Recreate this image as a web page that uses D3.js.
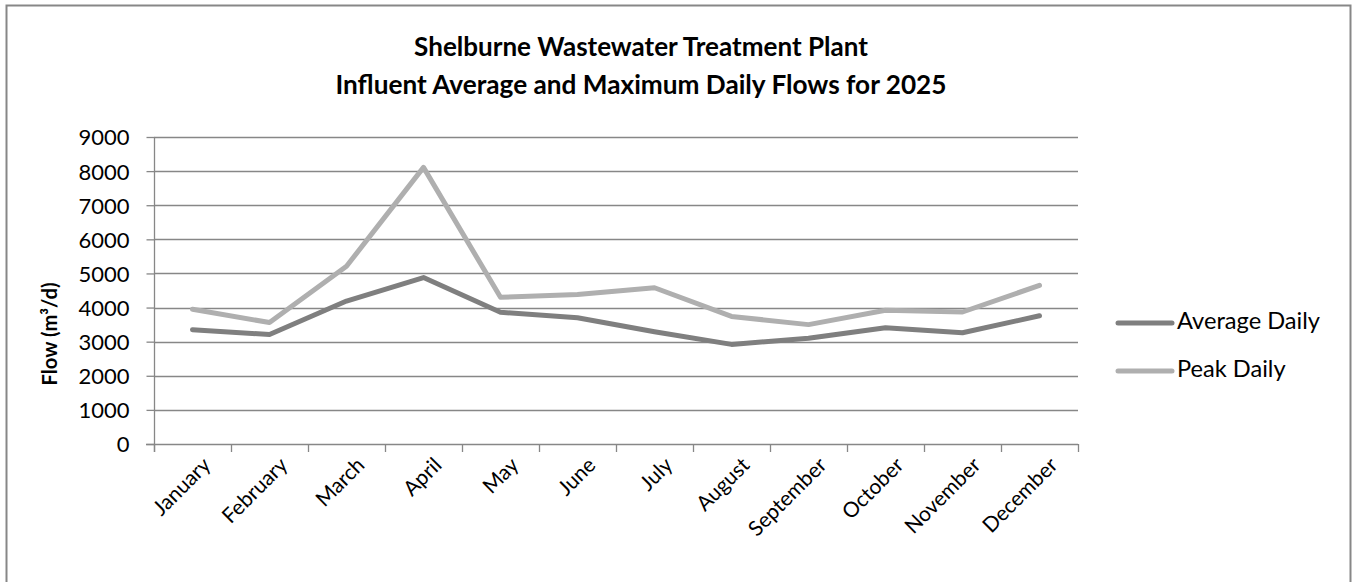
<!DOCTYPE html>
<html>
<head>
<meta charset="utf-8">
<script src="https://cdn.jsdelivr.net/npm/d3@7"></script>
<style>
  html, body { margin: 0; padding: 0; background: #fff; }
  svg { display: block; }
  text { font-family: Lato, "Open Sans", sans-serif; fill: #000; }
</style>
</head>
<body>
<svg id="chart" width="1353" height="582"></svg>
<script>
const months = ["January","February","March","April","May","June","July","August","September","October","November","December"];
const averageDaily = [3350, 3210, 4190, 4880, 3860, 3700, 3290, 2920, 3100, 3410, 3260, 3760];
const peakDaily = [3950, 3560, 5210, 8110, 4300, 4380, 4580, 3740, 3500, 3920, 3870, 4650];
const yTicks = [0, 1000, 2000, 3000, 4000, 5000, 6000, 7000, 8000, 9000];
const seriesNames = ["Average Daily", "Peak Daily"];
const seriesColors = ["#7f7f7f", "#afafaf"];
const titleLines = ["Shelburne Wastewater Treatment Plant", "Influent Average and Maximum Daily Flows for 2025"];
const yLabel = "Flow (m³/d)";

const svg = d3.select("#chart");
const gridColor = "#878787";

// fit a text element's font size to a target width
function fit(sel, target) {
  const w = sel.node().getComputedTextLength();
  const fs = parseFloat(sel.attr("font-size"));
  const nfs = fs * target / w;
  sel.attr("font-size", nfs.toFixed(2));
  return nfs;
}

// outer border
svg.append("rect")
  .attr("x", 6.5).attr("y", 5.5).attr("width", 1344).attr("height", 620)
  .attr("fill", "none").attr("stroke", gridColor).attr("stroke-width", 2);

const plot = { left: 154, right: 1078, top: 137, bottom: 444 };
const x = d3.scaleBand().domain(months).range([plot.left, plot.right]).padding(0);
const y = d3.scaleLinear().domain([0, 9000]).range([plot.bottom, plot.top]);

// gridlines
svg.append("g").selectAll("line").data(yTicks.filter(d => d > 0)).join("line")
  .attr("x1", plot.left).attr("x2", plot.right)
  .attr("y1", d => Math.round(y(d)) + 0.5).attr("y2", d => Math.round(y(d)) + 0.5)
  .attr("stroke", gridColor).attr("stroke-width", 1.3);

// y axis
const yAxis = svg.append("g").attr("transform", `translate(${plot.left + 0.5},0)`)
  .call(d3.axisLeft(y).tickValues(yTicks).tickSize(8).tickPadding(17).tickFormat(d3.format("d")));
yAxis.select(".domain").attr("stroke", gridColor).attr("stroke-width", 1.3)
  .attr("d", `M0,${plot.top}V${plot.bottom + 8}`);
yAxis.selectAll(".tick line").attr("stroke", gridColor).attr("stroke-width", 1.3);
yAxis.selectAll(".tick text").attr("font-family", "Lato, sans-serif").attr("font-size", 22).attr("fill", "#000").attr("dy", "0.36em");

// x axis
const xTickPos = d3.range(months.length + 1).map(i => plot.left + i * x.bandwidth());
const xg = svg.append("g");
xg.append("line").attr("x1", plot.left - 8).attr("x2", plot.right)
  .attr("y1", plot.bottom + 0.5).attr("y2", plot.bottom + 0.5)
  .attr("stroke", gridColor).attr("stroke-width", 1.3);
xg.selectAll("line.tk").data(xTickPos).join("line").attr("class", "tk")
  .attr("x1", d => Math.round(d) + 0.5).attr("x2", d => Math.round(d) + 0.5)
  .attr("y1", plot.bottom).attr("y2", plot.bottom + 8)
  .attr("stroke", gridColor).attr("stroke-width", 1.3);
xg.selectAll("text").data(months).join("text")
  .attr("transform", d => `translate(${x(d) + x.bandwidth() / 2 + 9},${plot.bottom + 12}) rotate(-45)`)
  .attr("text-anchor", "end").attr("dy", "0.7em")
  .attr("font-size", 21)
  .text(d => d);

// lines
const line = d3.line().x((d, i) => x(months[i]) + x.bandwidth() / 2).y(d => y(d));
[peakDaily, averageDaily].forEach((vals) => {
  const k = vals === averageDaily ? 0 : 1;
  svg.append("path").datum(vals)
    .attr("d", line)
    .attr("fill", "none").attr("stroke", seriesColors[k])
    .attr("stroke-width", 5).attr("stroke-linejoin", "round").attr("stroke-linecap", "round");
});

// legend
const legY = [323, 371];
let legFs = 20;
seriesNames.forEach((name, k) => {
  svg.append("line").attr("x1", 1118).attr("x2", 1172).attr("y1", legY[k]).attr("y2", legY[k])
    .attr("stroke", seriesColors[k]).attr("stroke-width", 5).attr("stroke-linecap", "round");
  const t = svg.append("text").attr("x", 1177).attr("y", legY[k] + 6).attr("font-size", legFs).text(name);
  if (k === 0) legFs = fit(t, 143);
});

// title
const t1 = svg.append("text").attr("x", 641).attr("y", 56).attr("text-anchor", "middle")
  .attr("font-weight", "bold").attr("font-size", 26).text(titleLines[0]);
fit(t1, 454);
const t2 = svg.append("text").attr("x", 641).attr("y", 94).attr("text-anchor", "middle")
  .attr("font-weight", "bold").attr("font-size", 26).text(titleLines[1]);
fit(t2, 611);

// y label
const yl = svg.append("text").attr("transform", "translate(57,334) rotate(-90)")
  .attr("text-anchor", "middle").attr("font-weight", "bold").attr("font-size", 15).text(yLabel);
fit(yl, 103);
</script>
</body>
</html>
